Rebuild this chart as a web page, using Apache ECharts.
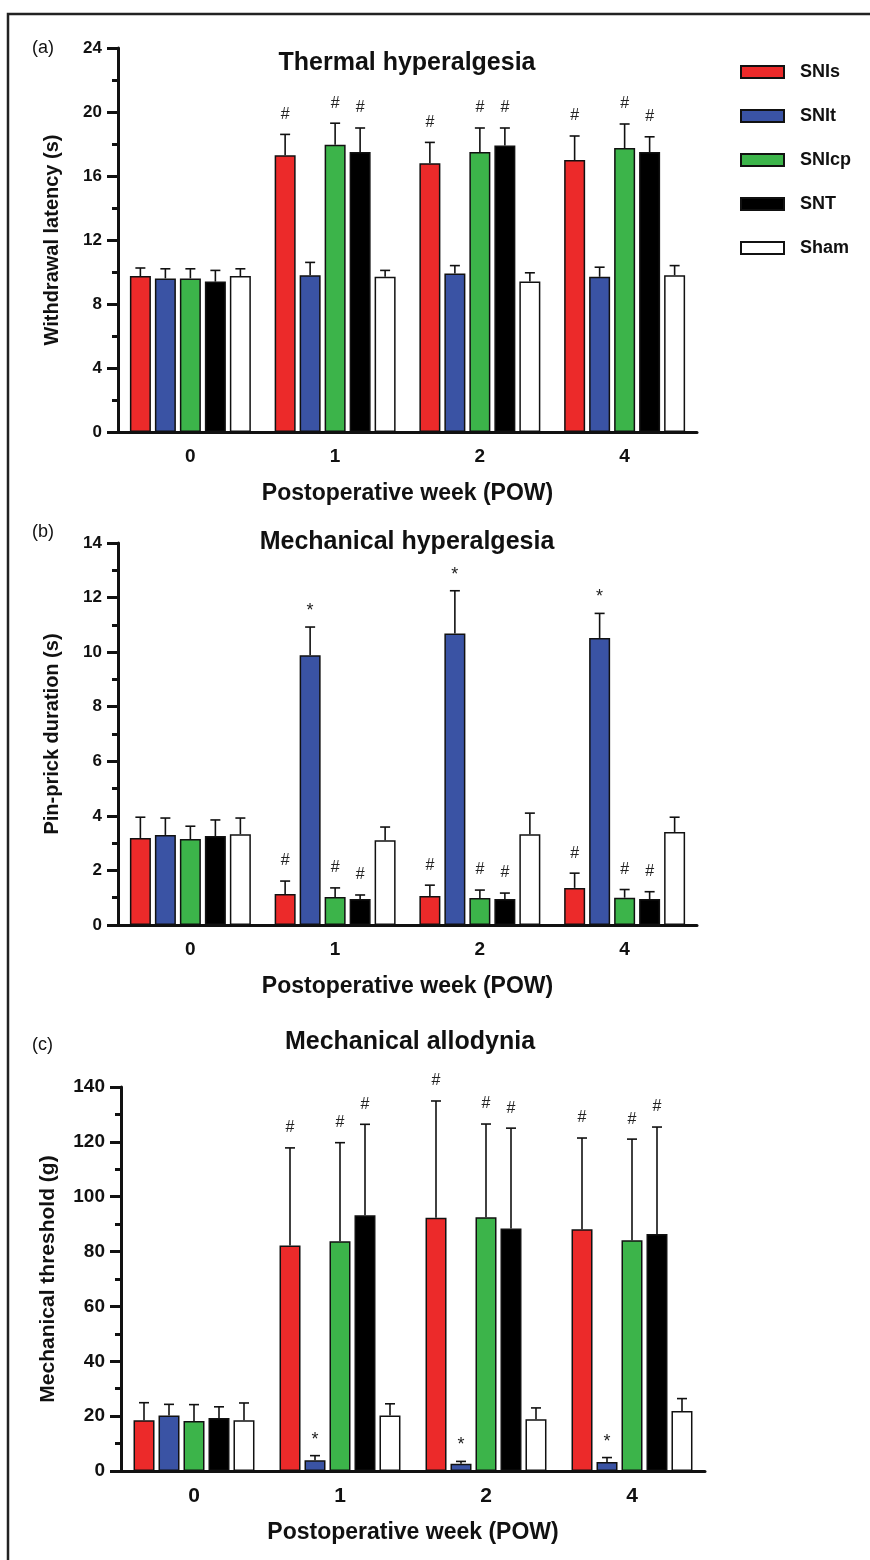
<!DOCTYPE html>
<html>
<head>
<meta charset="utf-8">
<script src="https://cdn.jsdelivr.net/npm/echarts@6/dist/echarts.min.js"></script>
<style>
html, body { margin: 0; padding: 0; background: #fff; }
#coolgraph { width: 870px; height: 1560px; }
</style>
</head>
<body>
<div id="coolgraph"></div>
<script>
var weeks = ['0', '1', '2', '4'];
var groups = ['SNIs', 'SNIt', 'SNIcp', 'SNT', 'Sham'];
var groupColors = ['#ec2a2a', '#3a53a4', '#3cb44a', '#000000', '#ffffff'];

// (a) thermal hyperalgesia, withdrawal latency (s) - rows follow groups
var thermalMean = [
  [9.75, 17.3, 16.8, 17.0],
  [9.6, 9.8, 9.9, 9.7],
  [9.6, 17.95, 17.5, 17.75],
  [9.4, 17.5, 17.9, 17.5],
  [9.75, 9.7, 9.4, 9.8]
];
var thermalSem = [
  [0.5, 1.3, 1.3, 1.5],
  [0.6, 0.8, 0.5, 0.6],
  [0.6, 1.35, 1.5, 1.5],
  [0.7, 1.5, 1.1, 0.95],
  [0.45, 0.4, 0.55, 0.6]
];
var thermalMarks = [
  ['', '#', '#', '#'],
  ['', '', '', ''],
  ['', '#', '#', '#'],
  ['', '#', '#', '#'],
  ['', '', '', '']
];

// (b) mechanical hyperalgesia, pin-prick duration (s)
var pinMean = [
  [3.19, 1.14, 1.06, 1.36],
  [3.3, 9.89, 10.68, 10.52],
  [3.15, 1.03, 0.99, 1.0],
  [3.26, 0.95, 0.95, 0.95],
  [3.33, 3.11, 3.33, 3.41]
];
var pinSem = [
  [0.76, 0.47, 0.4, 0.54],
  [0.62, 1.03, 1.57, 0.9],
  [0.47, 0.33, 0.29, 0.3],
  [0.59, 0.15, 0.22, 0.27],
  [0.59, 0.48, 0.77, 0.54]
];
var pinMarks = [
  ['', '#', '#', '#'],
  ['', '*', '*', '*'],
  ['', '#', '#', '#'],
  ['', '#', '#', '#'],
  ['', '', '', '']
];

// (c) mechanical allodynia, threshold (g)
var vonFreyMean = [
  [18.5, 82.2, 92.3, 88.1],
  [20.2, 3.9, 2.6, 3.3],
  [18.2, 83.8, 92.5, 84.1],
  [19.3, 93.2, 88.4, 86.4],
  [18.5, 20.2, 18.9, 21.9]
];
var vonFreySem = [
  [6.4, 35.6, 42.6, 33.3],
  [4.1, 1.7, 0.9, 1.6],
  [6.0, 35.9, 34.0, 36.9],
  [4.1, 33.2, 36.6, 39.0],
  [6.3, 4.3, 4.1, 4.5]
];
var vonFreyMarks = pinMarks;

var FONT = '"Liberation Sans", Arial, sans-serif';
var INK = '#111';

var chartDom = document.getElementById('coolgraph');
var myChart = echarts.init(chartDom);

function makeSeries(idx, means, sems, marks) {
  var out = [];
  for (var s = 0; s < groups.length; s++) {
    out.push({
      name: groups[s],
      type: 'bar',
      xAxisIndex: idx,
      yAxisIndex: idx,
      barWidth: 21,
      barGap: '19%',
      itemStyle: { color: groupColors[s], borderColor: INK, borderWidth: 1.5 },
      data: means[s]
    });
  }
  var errData = [];
  for (var g = 0; g < groups.length; g++) {
    for (var c = 0; c < weeks.length; c++) {
      errData.push([c, g, means[g][c], means[g][c] + sems[g][c]]);
    }
  }
  // error bars (upper half only) plus significance marks
  out.push({
    type: 'custom',
    xAxisIndex: idx,
    yAxisIndex: idx,
    z: 5,
    silent: true,
    encode: { x: 0, y: 3 },
    data: errData,
    renderItem: function (params, api) {
      var c = api.value(0);
      var g = api.value(1);
      var base = api.coord([c, api.value(2)]);
      var top = api.coord([c, api.value(3)]);
      var x = base[0] + (g - 2) * 25;
      var kids = [
        { type: 'line', shape: { x1: x, y1: base[1], x2: x, y2: top[1] }, style: { stroke: INK, lineWidth: 1.6 } },
        { type: 'line', shape: { x1: x - 5, y1: top[1], x2: x + 5, y2: top[1] }, style: { stroke: INK, lineWidth: 1.6 } }
      ];
      var m = marks[g][c];
      if (m) {
        kids.push({
          type: 'text',
          style: {
            text: m, x: x, y: top[1] - (m === '*' ? 16 : 20),
            align: 'center', verticalAlign: 'middle',
            font: (m === '*' ? '18px ' : '16px ') + FONT, fill: '#222'
          }
        });
      }
      return { type: 'group', children: kids };
    }
  });
  return out;
}

function xAxisCfg(idx, labelSize) {
  return {
    type: 'category',
    gridIndex: idx,
    data: weeks,
    name: 'Postoperative week (POW)',
    nameLocation: 'middle',
    nameGap: 50,
    nameTextStyle: { fontSize: 23, fontWeight: 'bold', color: INK, fontFamily: FONT },
    axisLine: { lineStyle: { color: INK, width: 3 } },
    axisTick: { alignWithLabel: true, length: 6, lineStyle: { color: INK, width: 3 } },
    axisLabel: { fontSize: labelSize, fontWeight: 'bold', color: INK, margin: 15, fontFamily: FONT }
  };
}

function yAxisCfg(idx, max, step, name, gap, nameSize, labelSize) {
  return {
    type: 'value',
    gridIndex: idx,
    min: 0,
    max: max,
    interval: step,
    name: name,
    nameLocation: 'middle',
    nameGap: gap,
    nameTextStyle: { fontSize: nameSize, fontWeight: 'bold', color: INK, fontFamily: FONT },
    axisLine: { show: true, lineStyle: { color: INK, width: 3 } },
    axisTick: { show: true, length: 11, lineStyle: { color: INK, width: 3 } },
    minorTick: { show: true, splitNumber: 2, length: 6, lineStyle: { color: INK, width: 3 } },
    splitLine: { show: false },
    axisLabel: { fontSize: labelSize, fontWeight: 'bold', color: INK, margin: 16, fontFamily: FONT }
  };
}

function label(txt, x, y, font, align) {
  return {
    type: 'text', x: x, y: y,
    style: { text: txt, font: font, fill: INK, align: align, verticalAlign: 'middle' }
  };
}

var option = {
  animation: false,
  backgroundColor: '#fff',
  legend: {
    data: groups,
    orient: 'vertical',
    left: 735,
    top: 57,
    itemWidth: 43,
    itemHeight: 12,
    itemGap: 24,
    icon: 'rect',
    textStyle: { fontSize: 18, fontWeight: 'bold', color: INK, fontFamily: FONT, lineHeight: 20, padding: [0, 0, 0, 11] }
  },
  grid: [
    { left: 118, top: 48, width: 579, height: 384 },
    { left: 118, top: 543, width: 579, height: 382 },
    { left: 121, top: 1087, width: 584, height: 384 }
  ],
  xAxis: [xAxisCfg(0, 19), xAxisCfg(1, 19), xAxisCfg(2, 21)],
  yAxis: [
    yAxisCfg(0, 24, 4, 'Withdrawal latency (s)', 56, 20, 17),
    yAxisCfg(1, 14, 2, 'Pin-prick duration (s)', 56, 20, 17),
    yAxisCfg(2, 140, 20, 'Mechanical threshold (g)', 62, 21, 19)
  ],
  graphic: [
    { type: 'rect', shape: { x: 8, y: 14, width: 900, height: 1600 }, style: { fill: 'none', stroke: '#222', lineWidth: 2.5 } },
    label('(a)', 32, 48, '18px ' + FONT, 'left'),
    label('(b)', 32, 532, '18px ' + FONT, 'left'),
    label('(c)', 32, 1045, '18px ' + FONT, 'left'),
    label('Thermal hyperalgesia', 407, 63, 'bold 25px ' + FONT, 'center'),
    label('Mechanical hyperalgesia', 407, 542, 'bold 25px ' + FONT, 'center'),
    label('Mechanical allodynia', 410, 1042, 'bold 25px ' + FONT, 'center')
  ],
  series: []
    .concat(makeSeries(0, thermalMean, thermalSem, thermalMarks))
    .concat(makeSeries(1, pinMean, pinSem, pinMarks))
    .concat(makeSeries(2, vonFreyMean, vonFreySem, vonFreyMarks))
};

option && myChart.setOption(option);
</script>
</body>
</html>
